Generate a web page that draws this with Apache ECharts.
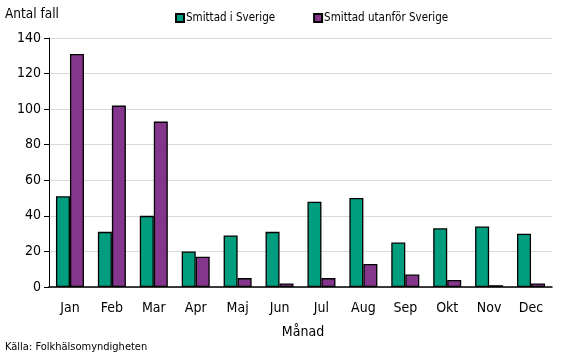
<!DOCTYPE html>
<html><head><meta charset="utf-8">
<script src="https://cdn.jsdelivr.net/npm/echarts@6/dist/echarts.min.js"></script>
<style>html,body{margin:0;padding:0;background:#fff}#c{width:567px;height:355px}</style>
</head><body><div id="c"></div>
<script>
const months = ['Jan','Feb','Mar','Apr','Maj','Jun','Jul','Aug','Sep','Okt','Nov','Dec'];
const seriesNames = ['Smittad i Sverige','Smittad utanför Sverige'];
const inSweden = [51,31,40,20,29,31,48,50,25,33,34,30];
const abroad = [131,102,93,17,5,2,5,13,7,4,1,2];
const yTicks = [0,20,40,60,80,100,120,140];

const F = '"DejaVu Sans Condensed", "DejaVu Sans", sans-serif';
const chart = echarts.init(document.getElementById('c'), null, {renderer:'canvas'});
chart.setOption({
  animation:false,
  textStyle:{fontFamily:F},
  grid:{left:49,right:15,top:38,bottom:68,containLabel:false},
  title:[
    {text:'Antal fall',left:0,top:2,textStyle:{fontFamily:F,fontSize:13.5,fontWeight:'normal',color:'#000'}},
    {text:'Månad',left:298,textAlign:'center',top:320,textStyle:{fontFamily:F,fontSize:14,fontWeight:'normal',color:'#000'}},
    {text:'Källa: Folkhälsomyndigheten',left:0,top:337,textStyle:{fontFamily:F,fontSize:11,fontWeight:'normal',color:'#000'}}
  ],
  legend:{
    top:7,left:170,itemWidth:8,itemHeight:8,itemGap:38,icon:'rect',
    textStyle:{fontFamily:F,fontSize:11.5,color:'#000',padding:[0,0,0,-3]},
    data:seriesNames
  },
  xAxis:{
    type:'category',data:months,
    axisLine:{lineStyle:{color:'#000',width:1.5}},
    axisTick:{show:false},
    axisLabel:{color:'#000',fontSize:14,fontFamily:F,margin:14}
  },
  yAxis:{
    type:'value',min:yTicks[0],max:yTicks[yTicks.length-1],interval:20,
    axisLine:{show:true,lineStyle:{color:'#000',width:1}},
    axisTick:{show:true,length:5,lineStyle:{color:'#000'}},
    axisLabel:{color:'#000',fontSize:14,fontFamily:F,margin:8},
    splitLine:{lineStyle:{color:'#d9d9d9',width:1}}
  },
  series:[
    {name:seriesNames[0],type:'bar',data:inSweden,barWidth:14,barGap:'0%',
     itemStyle:{color:'#009E7E',borderColor:'#000',borderWidth:1.3}},
    {name:seriesNames[1],type:'bar',data:abroad,barWidth:14,barGap:'0%',
     itemStyle:{color:'#83368B',borderColor:'#000',borderWidth:1.3}}
  ]
});
</script></body></html>
